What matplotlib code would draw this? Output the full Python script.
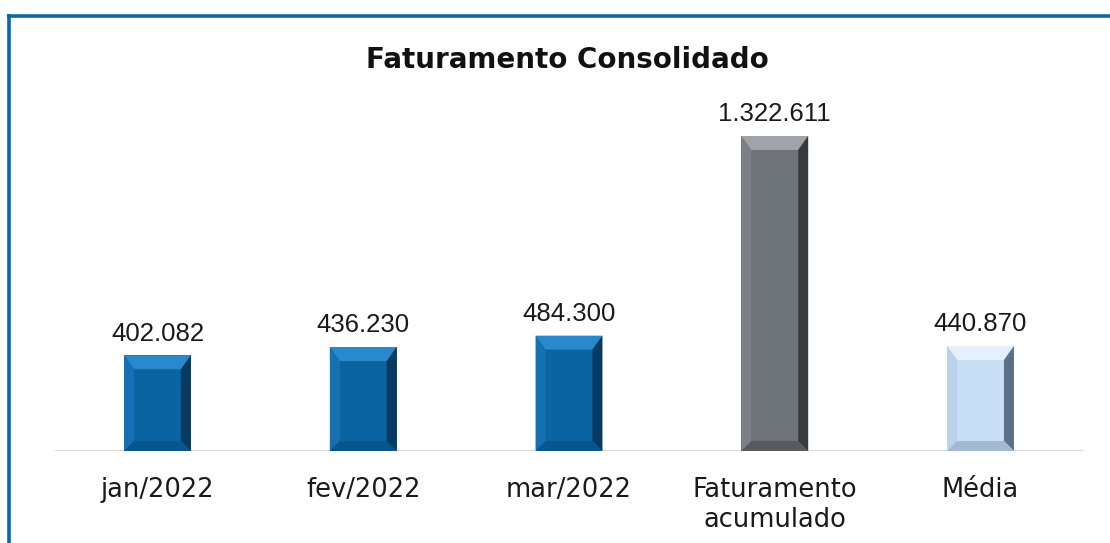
import matplotlib
matplotlib.use("Agg")
import matplotlib.pyplot as plt
from matplotlib.patches import Polygon
from matplotlib.lines import Line2D

categories = ["jan/2022", "fev/2022", "mar/2022", "Faturamento\nacumulado", "Média"]
values = [402082, 436230, 484300, 1322611, 440870]
value_labels = ["402.082", "436.230", "484.300", "1.322.611", "440.870"]

# (face, top, left, right, bottom) shades per bar style
blue = ("#0A64A2", "#2A88CC", "#1671B4", "#073A60", "#08568E")
gray = ("#6E7378", "#A0A4A8", "#7C8186", "#383B3E", "#575B5F")
light = ("#C7DEF4", "#E4F0FB", "#B9D2EA", "#5C7187", "#A2B9CF")
styles = [blue, blue, blue, gray, light]

W, H, DPI = 1110, 543, 100
fig = plt.figure(figsize=(W / DPI, H / DPI), dpi=DPI)
ax = fig.add_axes([54.6 / W, (H - 451) / H, (1083.4 - 54.6) / W, 351 / H])

x = list(range(len(categories)))
bars = ax.bar(x, values, width=0.325, color=[s[0] for s in styles], zorder=2)
ax.set_xlim(-0.5, len(categories) - 0.5)
ax.set_ylim(0, 1322611 * 351 / 315)

for s in ax.spines.values():
    s.set_visible(False)
ax.axhline(0, color="#D4D4D4", lw=2, zorder=1)
ax.set_yticks([])
ax.set_xticks(x)
ax.set_xticklabels(categories, fontsize=18.5, family="DejaVu Sans", color="#1a1a1a",
                   linespacing=1.2)
ax.tick_params(axis="x", length=0, pad=19)

# bevel effect, built from each bar's own geometry
fig.canvas.draw()
inv = ax.transData.inverted()
bt, bb, bl, br = 14, 10, 10, 10
for bar, st in zip(bars, styles):
    (x0, y0), (x1, y1) = ax.transData.transform(
        [(bar.get_x(), 0), (bar.get_x() + bar.get_width(), bar.get_height())])
    ox = [(x0, y1), (x1, y1), (x1, y0), (x0, y0)]
    ix = [(x0 + bl, y1 - bt), (x1 - br, y1 - bt), (x1 - br, y0 + bb), (x0 + bl, y0 + bb)]
    faces = [
        ([ox[0], ox[1], ix[1], ix[0]], st[1]),
        ([ox[0], ix[0], ix[3], ox[3]], st[2]),
        ([ox[1], ox[2], ix[2], ix[1]], st[3]),
        ([ox[3], ix[3], ix[2], ox[2]], st[4]),
    ]
    for pts, c in faces:
        ax.add_patch(Polygon(inv.transform(pts), closed=True, facecolor=c,
                             edgecolor="none", zorder=3))

for bar, lab in zip(bars, value_labels):
    ax.annotate(lab, (bar.get_x() + bar.get_width() / 2, bar.get_height()),
                xytext=(0, 7), textcoords="offset points", ha="center", va="bottom",
                fontsize=18.5, family="Liberation Sans", color="#1a1a1a")

fig.text(567 / W, 1 - 60 / H, "Faturamento Consolidado", ha="center", va="center",
         fontsize=20, fontweight="bold", family="DejaVu Sans", color="#111111")

# blue frame (top and left edges visible)
fig.add_artist(Line2D([7 / W, 1.0], [1 - 15.5 / H] * 2, color="#0868A8", lw=2.6,
                      solid_capstyle="butt"))
fig.add_artist(Line2D([8.5 / W] * 2, [0, 1 - 14 / H], color="#0868A8", lw=2.6,
                      solid_capstyle="butt"))

fig.savefig("out.png", dpi=DPI)
